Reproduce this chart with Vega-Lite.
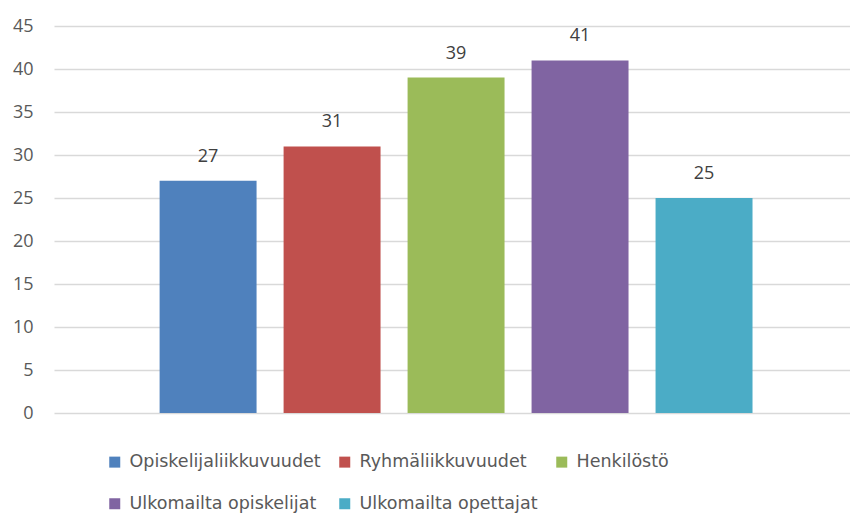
{
  "$schema": "https://vega.github.io/schema/vega-lite/v6.json",
  "autosize": {"type": "none"},
  "padding": {"left": 54, "top": 26, "right": 0, "bottom": 100},
  "width": 796,
  "height": 387,
  "background": "white",
  "config": {
    "view": {"stroke": null},
    "font": "Open Sans",
    "text": {"font": "Open Sans"}
  },
  "data": {
    "values": [
      {"kategoria": "Opiskelijaliikkuvuudet", "arvo": 27},
      {"kategoria": "Ryhmäliikkuvuudet", "arvo": 31},
      {"kategoria": "Henkilöstö", "arvo": 39},
      {"kategoria": "Ulkomailta opiskelijat", "arvo": 41},
      {"kategoria": "Ulkomailta opettajat", "arvo": 25}
    ]
  },
  "encoding": {
    "x": {
      "field": "kategoria",
      "type": "nominal",
      "sort": null,
      "axis": null,
      "scale": {"paddingInner": 0.218, "paddingOuter": 0.819, "align": 0.52}
    },
    "y": {
      "field": "arvo",
      "type": "quantitative",
      "scale": {"domain": [0, 45]},
      "axis": {
        "title": null,
        "values": [0, 5, 10, 15, 20, 25, 30, 35, 40, 45],
        "domain": false,
        "ticks": false,
        "labelPadding": 21,
        "labelFontSize": 18,
        "labelColor": "#595959",
        "labelFont": "Open Sans",
        "gridColor": "#d9d9d9",
        "gridWidth": 1.5
      }
    }
  },
  "layer": [
    {
      "mark": {"type": "bar"},
      "encoding": {
        "color": {
          "field": "kategoria",
          "type": "nominal",
          "sort": null,
          "scale": {
            "domain": ["Opiskelijaliikkuvuudet", "Ryhmäliikkuvuudet", "Henkilöstö", "Ulkomailta opiskelijat", "Ulkomailta opettajat"],
            "range": ["#4F81BD", "#C0504D", "#9BBB59", "#8064A2", "#4BACC6"]
          },
          "legend": {
            "title": null,
            "orient": "none",
            "direction": "horizontal",
            "columns": 3,
            "legendX": 52,
            "legendY": 427,
            "symbolType": "square",
            "symbolSize": 121,
            "symbolStrokeWidth": 0,
            "symbolOpacity": 1,
            "labelFontSize": 17.5,
            "labelColor": "#595959",
            "labelFont": "DejaVu Sans",
            "labelOffset": 6,
            "columnPadding": 15,
            "rowPadding": 23,
            "labelLimit": 400
          }
        }
      }
    },
    {
      "mark": {"type": "text", "baseline": "bottom", "dy": -15, "fontSize": 18, "color": "#404040", "font": "Open Sans"},
      "encoding": {"text": {"field": "arvo", "type": "quantitative"}}
    }
  ]
}
